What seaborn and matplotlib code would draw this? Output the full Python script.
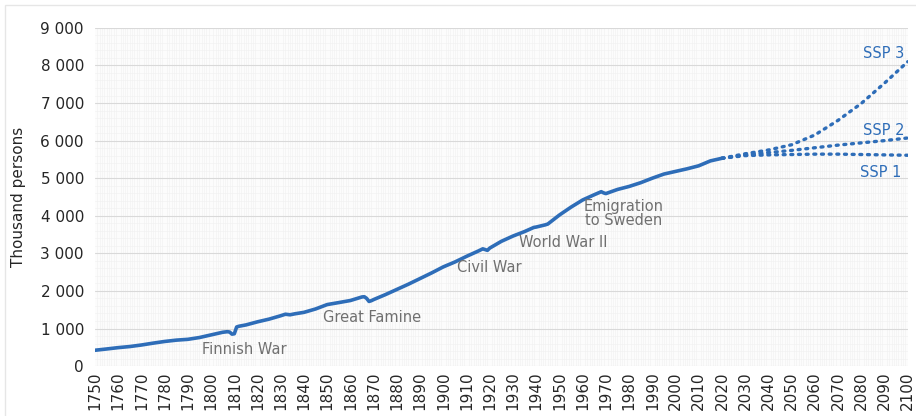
import pandas as pd
import matplotlib.pyplot as plt
import matplotlib.ticker as mticker
import seaborn as sns

# === Data (thousand persons) ===
hist_years = [1750, 1755, 1760, 1765, 1770, 1775, 1780, 1785, 1790, 1795,
              1800, 1805, 1807, 1808, 1809, 1810, 1811, 1812, 1815, 1820,
              1825, 1830, 1832, 1834, 1836, 1840, 1845, 1850, 1855, 1860,
              1865, 1866, 1867, 1868, 1869, 1870, 1875, 1880, 1885, 1890,
              1895, 1900, 1905, 1910, 1915, 1917, 1918, 1919, 1920, 1925,
              1930, 1935, 1939, 1940, 1944, 1945, 1950, 1955, 1960, 1965,
              1968, 1969, 1970, 1975, 1980, 1985, 1990, 1995, 2000, 2005,
              2010, 2015, 2020]
hist_pop = [421, 455, 491, 520, 561, 610, 655, 690, 712, 760,
            830, 900, 915, 905, 850, 860, 1040, 1060, 1095, 1178,
            1250, 1340, 1380, 1365, 1390, 1430, 1520, 1637, 1690, 1745,
            1840, 1845, 1800, 1720, 1740, 1770, 1900, 2040, 2180, 2330,
            2480, 2640, 2770, 2920, 3060, 3120, 3100, 3080, 3140, 3320,
            3460, 3580, 3690, 3700, 3760, 3780, 4020, 4230, 4420, 4560,
            4640, 4610, 4590, 4700, 4780, 4880, 5000, 5110, 5180, 5250,
            5330, 5460, 5530]

proj_years = [2020, 2030, 2040, 2050, 2060, 2070, 2080, 2090, 2100]
ssp1 = [5530, 5600, 5620, 5630, 5640, 5640, 5630, 5620, 5610]
ssp2 = [5530, 5620, 5680, 5740, 5810, 5880, 5940, 6000, 6070]
ssp3 = [5530, 5650, 5750, 5890, 6150, 6540, 6990, 7530, 8100]

events = ["Finnish War", "Great Famine", "Civil War", "World War II", "Emigration\nto Sweden"]
event_x = [1814.5, 1869.5, 1920, 1951.5, 1977.5]
event_y = [430, 1280, 2610, 3300, 4070]

ssp_labels = ["SSP 3", "SSP 2", "SSP 1"]
ssp_label_x = [2089.5, 2089.5, 2088.5]
ssp_label_y = [8330, 6280, 5160]

hist_df = pd.DataFrame({"year": hist_years, "pop": hist_pop})
proj_df = pd.DataFrame({"year": proj_years, "SSP 1": ssp1, "SSP 2": ssp2, "SSP 3": ssp3})

# === Plot ===
sns.set_style("white")
plt.rcParams['font.family'] = ['DejaVu Sans']

blue = "#2E6DB8"
fig, ax = plt.subplots(figsize=(9.16, 4.16), dpi=100)
fig.subplots_adjust(left=0.1037, right=0.991, top=0.933, bottom=0.12)

sns.lineplot(data=hist_df, x="year", y="pop", ax=ax, color=blue, linewidth=2.6)
for col in ["SSP 1", "SSP 2", "SSP 3"]:
    sns.lineplot(data=proj_df, x="year", y=col, ax=ax, color=blue,
                 linewidth=2.4, linestyle=(0, (0.6, 1.7)), dash_capstyle="round")

for txt, x, y in zip(events, event_x, event_y):
    ax.text(x, y, txt, ha="center", va="center", fontsize=10.5, color="#707070",
            linespacing=0.9)
for txt, x, y in zip(ssp_labels, ssp_label_x, ssp_label_y):
    ax.text(x, y, txt, ha="center", va="center", fontsize=10.5, color=blue)

# Styling
ax.set_xlim(1750, 2100)
ax.set_ylim(0, 9000)
ax.set_xticks(range(1750, 2101, 10))
ax.tick_params(axis="x", labelrotation=90, labelsize=11, length=0, pad=4)
ax.tick_params(axis="y", labelsize=11, length=0, pad=8)
ax.set_yticks(range(0, 9001, 1000))
ax.yaxis.set_major_formatter(mticker.FuncFormatter(lambda v, p: f"{int(v):,}".replace(",", " ")))
ax.xaxis.set_minor_locator(mticker.MultipleLocator(1))
ax.yaxis.set_minor_locator(mticker.MultipleLocator(200))
ax.grid(which="major", axis="y", color="#D9D9D9", linewidth=0.8)
ax.grid(which="minor", axis="both", color="#F2F2F2", linewidth=0.5)
ax.set_axisbelow(True)
ax.set_xlabel("")
ax.set_ylabel("Thousand persons", fontsize=11, labelpad=10)
for s in ax.spines.values():
    s.set_visible(False)
ax.set_facecolor("#FCFCFC")

fig.patches.append(plt.Rectangle((0.006, -0.01), 1.0, 0.998, transform=fig.transFigure,
                                 fill=False, edgecolor="#E6E6E6", linewidth=1.0))

plt.savefig("out.png", dpi=100)
